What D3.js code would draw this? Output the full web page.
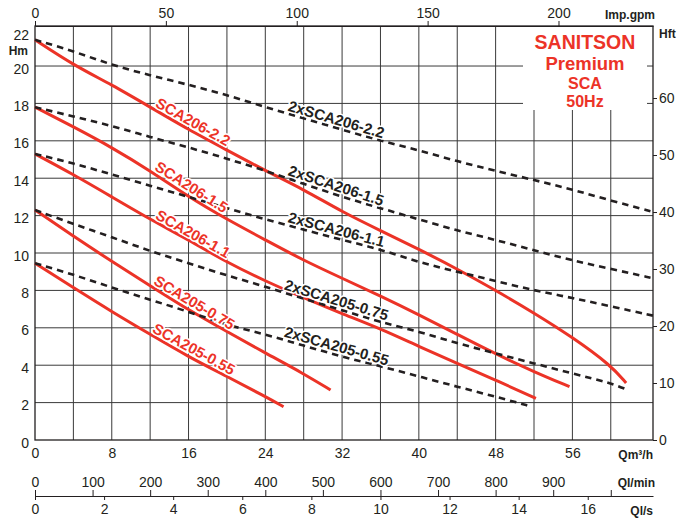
<!DOCTYPE html>
<html>
<head>
<meta charset="utf-8">
<script src="https://cdn.jsdelivr.net/npm/d3@7"></script>
<style>
  html, body { margin: 0; padding: 0; background: #fff; }
  svg text { font-family: "Liberation Sans", Arial, Helvetica, sans-serif; }
</style>
</head>
<body>
<svg id="chart" width="681" height="518"></svg>
<script>
// ---------------- DATA ----------------
const headTicks = [0, 2, 4, 6, 8, 10, 12, 14, 16, 18, 20, 22];
const flowTicks = [0, 8, 16, 24, 32, 40, 48, 56];
const gridFlow = [4, 8, 12, 16, 20, 24, 28, 32, 36, 40, 44, 48, 52, 56, 60];
const gridHead = [2, 4, 6, 8, 10, 12, 14, 16, 18, 20];
const ftTicks = [0, 10, 20, 30, 40, 50, 60];
const gpmTicks = [0, 50, 100, 150, 200];
const lminTicks = [0, 100, 200, 300, 400, 500, 600, 700, 800, 900, 1000];
const lsTicks = [0, 2, 4, 6, 8, 10, 12, 14, 16];

// single pumps (red solid)
const sca206_22_q = [0, 4, 8, 12, 16, 20, 24, 28, 32, 36, 40, 44, 48, 52, 56, 60, 61.6];
const sca206_22_h = [21.4, 20.05, 19.0, 17.8, 16.6, 15.5, 14.4, 13.4, 12.2, 11.2, 10.2, 9.15, 8.0, 6.8, 5.5, 4.0, 3.05];
const sca206_15_q = [0, 4, 8, 12, 16, 20, 24, 28, 32, 36, 40, 44, 48, 52, 55.7];
const sca206_15_h = [17.8, 16.75, 15.65, 14.4, 13.0, 11.8, 10.7, 9.6, 8.65, 7.7, 6.7, 5.65, 4.6, 3.65, 2.85];
const sca206_11_q = [0, 4, 8, 12, 16, 20, 24, 28, 32, 36, 40, 44, 48, 52.2];
const sca206_11_h = [15.3, 14.2, 13.0, 11.8, 10.7, 9.5, 8.5, 7.6, 6.75, 5.95, 5.0, 4.1, 3.2, 2.23];
const sca205_075_q = [0, 4, 8, 12, 16, 20, 24, 28, 30.8];
const sca205_075_h = [12.3, 10.9, 9.55, 8.25, 6.95, 5.8, 4.65, 3.55, 2.67];
const sca205_055_q = [0, 4, 8, 12, 16, 20, 24, 25.9];
const sca205_055_h = [9.45, 8.15, 6.86, 5.65, 4.45, 3.4, 2.32, 1.78];

// twin pumps (black dashed)
const x2sca206_22_q = [0, 4, 8, 12, 16, 20, 24, 28, 32, 36, 40, 44, 48, 52, 56, 60, 64.4];
const x2sca206_22_h = [21.4, 20.8, 20.05, 19.5, 19.0, 18.45, 17.8, 17.2, 16.6, 16.0, 15.5, 14.9, 14.4, 13.9, 13.4, 12.8, 12.2];
const x2sca206_15_q = [0, 4, 8, 12, 16, 20, 24, 28, 32, 36, 40, 44, 48, 52, 56, 60, 64.4];
const x2sca206_15_h = [17.8, 17.3, 16.8, 16.2, 15.65, 15.05, 14.4, 13.7, 13.0, 12.4, 11.8, 11.2, 10.7, 10.15, 9.6, 9.15, 8.65];
const x2sca206_11_q = [0, 4, 8, 12, 16, 20, 24, 28, 32, 36, 40, 44, 48, 52, 56, 60, 64.4];
const x2sca206_11_h = [15.3, 14.8, 14.2, 13.6, 13.0, 12.4, 11.8, 11.25, 10.7, 10.2, 9.5, 9.0, 8.5, 8.0, 7.6, 7.15, 6.65];
const x2sca205_075_q = [0, 4, 8, 12, 16, 20, 24, 28, 32, 36, 40, 44, 48, 52, 56, 60, 61.8];
const x2sca205_075_h = [12.3, 11.55, 10.85, 10.1, 9.45, 8.8, 8.2, 7.55, 6.95, 6.3, 5.8, 5.17, 4.63, 4.1, 3.55, 3.05, 2.67];
const x2sca205_055_q = [0, 4, 8, 12, 16, 20, 24, 28, 32, 36, 40, 44, 48, 51.8];
const x2sca205_055_h = [9.45, 8.85, 8.15, 7.5, 6.86, 6.15, 5.65, 5.05, 4.45, 3.95, 3.4, 2.85, 2.32, 1.78];

const curveNames = ["SCA206-2.2", "SCA206-1.5", "SCA206-1.1", "SCA205-0.75", "SCA205-0.55",
  "2xSCA206-2.2", "2xSCA206-1.5", "2xSCA206-1.1", "2xSCA205-0.75", "2xSCA205-0.55"];
const curveQ = [sca206_22_q, sca206_15_q, sca206_11_q, sca205_075_q, sca205_055_q,
  x2sca206_22_q, x2sca206_15_q, x2sca206_11_q, x2sca205_075_q, x2sca205_055_q];
const curveH = [sca206_22_h, sca206_15_h, sca206_11_h, sca205_075_h, sca205_055_h,
  x2sca206_22_h, x2sca206_15_h, x2sca206_11_h, x2sca205_075_h, x2sca205_055_h];
const curveTwin = [false, false, false, false, false, true, true, true, true, true];
const labelStartQ = [12.3, 12.2, 12.3, 12.1, 12.0, 26.2, 26.2, 26.2, 25.8, 25.8];

const titleLines = ["SANITSON", "Premium", "SCA", "50Hz"];

// ---------------- LAYOUT ----------------
const RED = "#ec3327";
const INK = "#231f20";
const GRID = "#3a3a3a";
const L = 35, R = 653, T = 26, B = 440;
const Q_MAX = 64.4, H_MAX = 22.14;
const M3H_PER_GPM = 1 / 3.6662;

const svg = d3.select("#chart");
const x = d3.scaleLinear([0, Q_MAX], [L, R]);
const y = d3.scaleLinear([0, H_MAX], [B, T]);
const ftScale = d3.scaleLinear([0, H_MAX / 0.3048], [B, T]);
const gpmScale = d3.scaleLinear([0, Q_MAX / M3H_PER_GPM], [L, R]);
const lminScale = d3.scaleLinear([0, Q_MAX / 0.06], [L, R]);
const lsScale = d3.scaleLinear([0, Q_MAX / 3.6], [L, R]);

// grid
const grid = svg.append("g");
grid.selectAll("line.v").data(gridFlow).join("line")
  .attr("x1", d => x(d)).attr("x2", d => x(d)).attr("y1", T).attr("y2", B)
  .attr("stroke", GRID).attr("stroke-width", 1);
grid.selectAll("line.h").data(gridHead).join("line")
  .attr("x1", L).attr("x2", R).attr("y1", d => y(d)).attr("y2", d => y(d))
  .attr("stroke", GRID).attr("stroke-width", 1);

// title box (white, hides grid)
svg.append("rect").attr("x", 523).attr("y", T + 1).attr("width", 124).attr("height", 83).attr("fill", "#fff");
const titleSize = [19.5, 18.5, 16, 16];
const titleY = [49, 70, 89, 107];
svg.append("g").attr("fill", RED).attr("font-weight", "bold").attr("text-anchor", "middle")
  .selectAll("text").data(titleLines).join("text")
  .attr("x", 585).attr("y", (d, i) => titleY[i])
  .attr("font-size", (d, i) => titleSize[i]).text(d => d);

// frame
svg.append("rect").attr("x", L).attr("y", T).attr("width", R - L).attr("height", B - T)
  .attr("fill", "none").attr("stroke", INK).attr("stroke-width", 1.3);

function styleAxis(g, size) {
  g.selectAll("text").attr("font-size", size).attr("fill", INK)
    .attr("font-family", "'Liberation Sans', Arial, Helvetica, sans-serif");
  g.selectAll("line").attr("stroke", INK);
  g.selectAll("path").attr("stroke", INK);
}

// left axis
svg.append("g").attr("transform", `translate(${L},0)`)
  .call(d3.axisLeft(y).tickValues(headTicks).tickSize(0).tickPadding(6))
  .call(g => g.select(".domain").remove())
  .call(g => g.selectAll("text").attr("dy", d => d === 22 ? "0.75em" : "0.5em"))
  .call(g => styleAxis(g, 14));

// right axis (ft)
svg.append("g").attr("transform", `translate(${R},0)`)
  .call(d3.axisRight(ftScale).tickValues(ftTicks).tickSize(4).tickPadding(2))
  .call(g => g.select(".domain").remove())
  .call(g => styleAxis(g, 14));

// top axis (Imp.gpm)
svg.append("g").attr("transform", `translate(0,${T})`)
  .call(d3.axisTop(gpmScale).tickValues(gpmTicks).tickSize(5).tickSizeOuter(0).tickPadding(3))
  .call(g => styleAxis(g, 14));

// bottom main axis (m3/h)
svg.append("g").attr("transform", `translate(0,${B})`)
  .call(d3.axisBottom(x).tickValues(flowTicks).tickSize(0).tickPadding(8))
  .call(g => g.select(".domain").remove())
  .call(g => styleAxis(g, 14));

// Ql/min axis
svg.append("g").attr("transform", `translate(0,496)`)
  .call(d3.axisTop(lminScale).tickValues(lminTicks).tickSize(6).tickSizeOuter(0).tickPadding(3)
    .tickFormat(d => d === 1000 ? "" : d))
  .call(g => g.select(".domain").attr("stroke-width", 1.2))
  .call(g => styleAxis(g, 14));

// Ql/s axis
svg.append("g").attr("transform", `translate(0,496)`)
  .call(d3.axisBottom(lsScale).tickValues(lsTicks).tickSize(4).tickSizeOuter(0).tickPadding(4))
  .call(g => g.select(".domain").remove())
  .call(g => styleAxis(g, 14));

// unit labels
const units = [
  { t: "Hm", x: 28, y: 55, a: "end" },
  { t: "Hft", x: 659, y: 38, a: "start" },
  { t: "Imp.gpm", x: 655, y: 19, a: "end" },
  { t: "Qm\u00B3/h", x: 653, y: 459, a: "end" },
  { t: "Ql/min", x: 655, y: 487, a: "end" },
  { t: "Ql/s", x: 653, y: 515, a: "end" }
];
svg.append("g").selectAll("text").data(units).join("text")
  .attr("x", d => d.x).attr("y", d => d.y).attr("text-anchor", d => d.a)
  .attr("font-size", 12).attr("font-weight", "bold").attr("fill", INK).text(d => d.t);

// curves
const line = d3.line().x(d => x(d[0])).y(d => y(d[1])).curve(d3.curveBasis);
const curves = svg.append("g");
curveNames.forEach((name, i) => {
  const pts = d3.zip(curveQ[i], curveH[i]);
  curves.append("path").datum(pts).attr("d", line)
    .attr("fill", "none")
    .attr("stroke", curveTwin[i] ? INK : RED)
    .attr("stroke-width", curveTwin[i] ? 2.6 : 3)
    .attr("stroke-dasharray", curveTwin[i] ? "6.5,5" : null)
    .attr("stroke-linecap", "butt");
});

// labels
const labels = svg.append("g");
curveNames.forEach((name, i) => {
  const hAt = d3.scaleLinear(curveQ[i], curveH[i]);
  const q0 = labelStartQ[i];
  const q1 = q0 + 8;
  const px0 = x(q0), py0 = y(hAt(q0));
  const px1 = x(q1), py1 = y(hAt(q1));
  const ang = Math.atan2(py1 - py0, px1 - px0) * 180 / Math.PI;
  labels.append("text")
    .attr("transform", `translate(${px0},${py0}) rotate(${ang})`)
    .attr("x", 0).attr("y", -3)
    .attr("font-size", 15)
    .attr("font-weight", "bold")
    .attr("fill", curveTwin[i] ? INK : RED)
    .attr("stroke", "#fff").attr("stroke-width", 3).attr("paint-order", "stroke")
    .attr("stroke-linejoin", "round")
    .text(name);
});
</script>
</body>
</html>
